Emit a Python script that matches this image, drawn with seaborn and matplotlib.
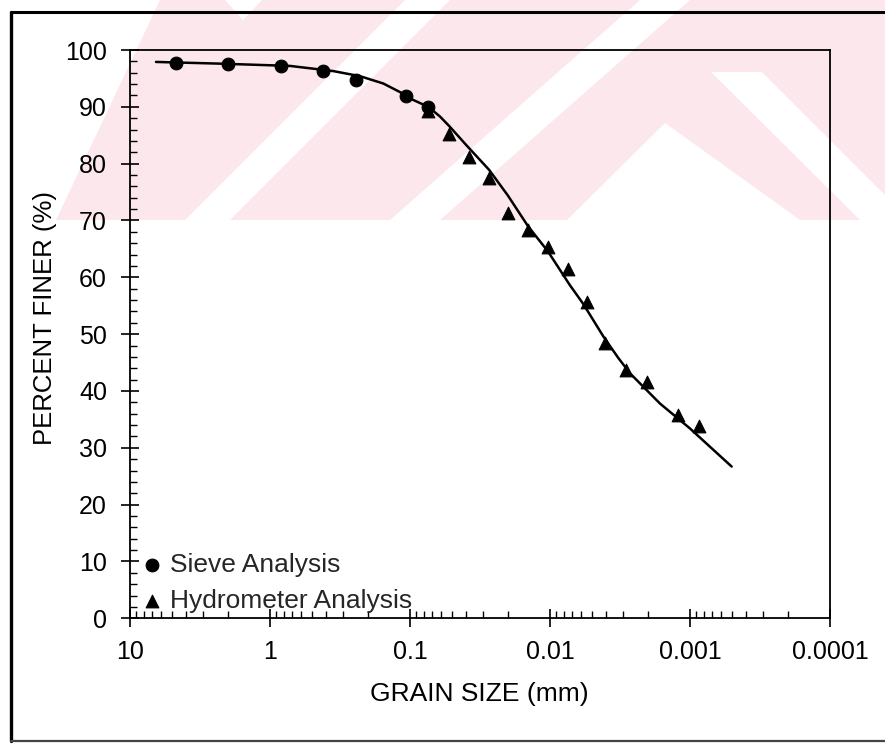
import numpy as np
import matplotlib
matplotlib.use("Agg")
import matplotlib.pyplot as plt
import seaborn as sns
from matplotlib.patches import Polygon
from matplotlib.lines import Line2D
from matplotlib.ticker import FixedLocator, FixedFormatter, LogLocator, MultipleLocator, NullFormatter

# ---------------- data ----------------
sieve_size = [4.72, 2.0, 0.834, 0.42, 0.243, 0.107, 0.074]
sieve_pf = [97.8, 97.5, 97.1, 96.3, 94.8, 91.9, 90.0]

hydro_size = [0.074, 0.0524, 0.0377, 0.0272, 0.0200, 0.01436, 0.01037,
              0.00748, 0.00547, 0.00405, 0.00286, 0.00204, 0.00121, 0.00086]
hydro_pf = [89.3, 85.2, 81.1, 77.4, 71.3, 68.3, 65.4,
            61.4, 55.7, 48.5, 43.7, 41.6, 35.7, 33.8]

curve_size = [6.52, 2.28, 0.72, 0.355, 0.228, 0.155, 0.118, 0.0946, 0.074,
              0.0611, 0.0524, 0.0394, 0.0272, 0.020, 0.01436, 0.01037,
              0.0072, 0.00578, 0.00416, 0.00325, 0.00268, 0.00164,
              0.001, 0.000504]
curve_pf = [97.9, 97.6, 97.2, 96.3, 95.4, 94.1, 92.6, 91.2, 90.0,
            88.3, 86.6, 83.2, 78.9, 74.4, 69.0, 64.6,
            58.6, 55.3, 49.6, 45.8, 43.1, 37.8,
            33.4, 26.7]

xtick_vals = [10, 1, 0.1, 0.01, 0.001, 0.0001]
xtick_labels = ["10", "1", "0.1", "0.01", "0.001", "0.0001"]
ytick_vals = [0, 10, 20, 30, 40, 50, 60, 70, 80, 90, 100]
ytick_labels = ["0", "10", "20", "30", "40", "50", "60", "70", "80", "90", "100"]

series_labels = ["Sieve Analysis", "Hydrometer Analysis"]
x_title = "GRAIN SIZE (mm)"
y_title = "PERCENT FINER (%)"

# ---------------- style ----------------
sns.set_style("white")
plt.rcParams["font.family"] = ["Liberation Sans", "DejaVu Sans"]

W, H = 885, 745
fig = plt.figure(figsize=(W / 100, H / 100), dpi=100)
fig.patch.set_facecolor("white")


def fx(px):
    return px / W


def fy(py):
    return 1 - py / H


def poly(pts, color, z):
    p = Polygon([(fx(x), fy(y)) for x, y in pts], closed=True,
                transform=fig.transFigure, facecolor=color, edgecolor="none", zorder=z)
    fig.add_artist(p)


# faint pink watermark band at the top
pink = "#fce8ec"
poly([(160, 0), (885, 0), (885, 220), (56, 220)], pink, -20)
# white diagonal gaps
poly([(405, 0), (450, 0), (230, 220), (185, 220)], "white", -19)
poly([(640, 0), (690, 0), (440, 220), (390, 220)], "white", -19)
poly([(665, 123), (800, 220), (567, 220)], "white", -19)
poly([(711, 72), (762, 72), (885, 195), (885, 220), (860, 220)], "white", -19)
poly([(225, 0), (262, 0), (243, 20)], "white", -19)

# figure frame
fig.add_artist(Line2D([fx(11), fx(11)], [fy(12), fy(741)], transform=fig.transFigure,
                      color="black", lw=2.4, zorder=5))
fig.add_artist(Line2D([fx(11), fx(885)], [fy(12), fy(12)], transform=fig.transFigure,
                      color="black", lw=2.2, zorder=5))
fig.add_artist(Line2D([fx(11), fx(885)], [fy(741), fy(741)], transform=fig.transFigure,
                      color="#444444", lw=1.6, zorder=5))

# ---------------- axes ----------------
ax = fig.add_axes([fx(130), fy(618.3), (830 - 130) / W, 568.3 / H])
ax.set_facecolor("none")

sns.lineplot(x=curve_size, y=curve_pf, sort=False, estimator=None, color="black",
             lw=1.8, ax=ax, legend=False, zorder=2)
sns.scatterplot(x=sieve_size, y=sieve_pf, marker="o", color="black", edgecolor="black",
                s=85, ax=ax, label=series_labels[0], zorder=3)
sns.scatterplot(x=hydro_size, y=hydro_pf, marker="^", color="black", edgecolor="black",
                s=85, ax=ax, label=series_labels[1], zorder=3)

ax.set_xscale("log")
ax.set_xlim(10, 0.0001)
ax.set_ylim(0, 100)

ax.xaxis.set_major_locator(FixedLocator(xtick_vals))
ax.xaxis.set_major_formatter(FixedFormatter(xtick_labels))
ax.xaxis.set_minor_locator(LogLocator(base=10, subs=np.arange(2, 10), numticks=30))
ax.xaxis.set_minor_formatter(NullFormatter())
ax.yaxis.set_major_locator(FixedLocator(ytick_vals))
ax.yaxis.set_major_formatter(FixedFormatter(ytick_labels))
ax.yaxis.set_minor_locator(MultipleLocator(2))

ax.tick_params(axis="both", which="both", bottom=True, left=True, top=False, right=False,
               colors="black")
ax.tick_params(axis="both", which="major", direction="inout", length=13, width=1.2,
               labelsize=18, pad=9)
ax.tick_params(axis="y", which="major", pad=10)
ax.tick_params(axis="both", which="minor", direction="in", length=5, width=1.0)

for sp in ax.spines.values():
    sp.set_visible(True)
    sp.set_color("black")
    sp.set_linewidth(1.3)

ax.set_xlabel(x_title, fontsize=19, color="black")
ax.set_ylabel(y_title, fontsize=18.5, color="black")
ax.xaxis.set_label_coords(0.499, -0.112)
ax.yaxis.set_label_coords(-0.104, 0.528)

ax.legend(loc="lower left", bbox_to_anchor=(0.018, 0.010), frameon=False, fontsize=19,
          handlelength=0.7, handletextpad=0.35, labelspacing=0.45, borderaxespad=0,
          borderpad=0)

fig.savefig("out.png", dpi=100)
